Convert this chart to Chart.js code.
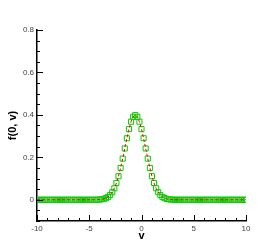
<!DOCTYPE html>
<html>
<head>
<meta charset="utf-8">
<script src="https://cdn.jsdelivr.net/npm/chart.js@4/dist/chart.umd.min.js"></script>
<style>
  html, body { margin: 0; padding: 0; background: #fff; }
  #wrap { width: 280px; height: 249px; }
</style>
</head>
<body>
<div id="wrap"><canvas id="chart"></canvas></div>
<script>
'use strict';

// velocity grid
const vPoints = [
  -10, -9.8, -9.6, -9.4, -9.2, -9, -8.8, -8.6, -8.4, -8.2,
  -8, -7.8, -7.6, -7.4, -7.2, -7, -6.8, -6.6, -6.4, -6.2,
  -6, -5.8, -5.6, -5.4, -5.2, -5, -4.8, -4.6, -4.4, -4.2,
  -4, -3.8, -3.6, -3.4, -3.2, -3, -2.8, -2.6, -2.4, -2.2,
  -2, -1.8, -1.6, -1.4, -1.2, -1, -0.8, -0.6, -0.4, -0.2,
  0, 0.2, 0.4, 0.6, 0.8, 1, 1.2, 1.4, 1.6, 1.8,
  2, 2.2, 2.4, 2.6, 2.8, 3, 3.2, 3.4, 3.6, 3.8,
  4, 4.2, 4.4, 4.6, 4.8, 5, 5.2, 5.4, 5.6, 5.8,
  6, 6.2, 6.4, 6.6, 6.8, 7, 7.2, 7.4, 7.6, 7.8,
  8, 8.2, 8.4, 8.6, 8.8, 9, 9.2, 9.4, 9.6, 9.8,
  10
];

// f(0, v)
const fPoints = [
  0, 0, 0, 0, 0, 0, 0, 0, 0, 0,
  0, 0, 0, 0, 0, 0, 0, 0, 0, 0,
  0, 0, 0, 0, 0, 0, 0, 0, 0.0003, 0.0006,
  0.0012, 0.0024, 0.0044, 0.0079, 0.0136, 0.0224, 0.0355, 0.054, 0.079, 0.111,
  0.150, 0.194, 0.242, 0.290, 0.333, 0.368, 0.391, 0.399, 0.391, 0.368,
  0.333, 0.290, 0.242, 0.194, 0.150, 0.111, 0.079, 0.054, 0.0355, 0.0224,
  0.0136, 0.0079, 0.0044, 0.0024, 0.0012, 0.0006, 0.0003, 0, 0, 0,
  0, 0, 0, 0, 0, 0, 0, 0, 0, 0,
  0, 0, 0, 0, 0, 0, 0, 0, 0, 0,
  0, 0, 0, 0, 0, 0, 0, 0, 0, 0,
  0
];

const xTicks = [-10, -5, 0, 5, 10];
const yTicks = [0, 0.2, 0.4, 0.6, 0.8];

let points = vPoints.map((v, i) => ({ x: v, y: fPoints[i] }));

// tecplot style ticks pointing into the plot
const inwardTicks = {
  id: 'inwardTicks',
  afterDraw(chart) {
    const ctx = chart.ctx;
    const x = chart.scales.x;
    const y = chart.scales.y;
    const area = chart.chartArea;
    ctx.save();
    ctx.strokeStyle = '#000';
    ctx.lineWidth = 1;
    ctx.beginPath();
    for (let v = -10; v <= 10; v++) {
      let px = Math.round(x.getPixelForValue(v)) + 0.5;
      let len = (v % 5 === 0) ? 6 : 3;
      ctx.moveTo(px, area.bottom);
      ctx.lineTo(px, area.bottom - len);
    }
    for (let k = -2; k <= 16; k++) {
      let py = Math.round(y.getPixelForValue(k * 0.05)) + 0.5;
      let len = (k % 4 === 0) ? 6 : 3;
      ctx.moveTo(area.left, py);
      ctx.lineTo(area.left + len, py);
    }
    ctx.stroke();
    ctx.restore();
  }
};

new Chart(document.getElementById('chart'), {
  type: 'line',
  data: {
    datasets: [
      {
        label: 'line',
        data: points,
        borderColor: '#ff0000',
        borderWidth: 1,
        borderDash: [3, 2],
        pointRadius: 0,
        fill: false
      },
      {
        label: 'squares',
        data: points,
        showLine: false,
        pointStyle: 'rect',
        pointRadius: 3.6,
        pointBorderWidth: 1,
        pointBorderColor: '#00d000',
        pointBackgroundColor: 'rgba(0,0,0,0)'
      }
    ]
  },
  options: {
    responsive: true,
    maintainAspectRatio: false,
    animation: false,
    layout: { padding: { top: 30, right: 34, left: 0, bottom: 0 } },
    plugins: {
      legend: { display: false },
      tooltip: { enabled: false }
    },
    scales: {
      x: {
        type: 'linear',
        min: -10,
        max: 10,
        afterBuildTicks: (scale) => { scale.ticks = xTicks.map(v => ({ value: v })); },
        afterFit: (scale) => { scale.height = 28; },
        grid: { display: false, drawTicks: false },
        border: { display: true, color: '#000', width: 1.5 },
        ticks: {
          padding: 3,
          maxRotation: 0,
          color: '#444',
          font: { family: 'Liberation Sans', size: 8 },
          callback: (v) => String(v)
        },
        title: {
          display: true,
          text: 'v',
          color: '#000',
          padding: { top: 0, bottom: 6 },
          font: { family: 'Liberation Sans', size: 11, weight: 'bold' }
        }
      },
      y: {
        type: 'linear',
        min: -0.1,
        max: 0.8,
        afterBuildTicks: (scale) => { scale.ticks = yTicks.map(v => ({ value: v })); },
        afterFit: (scale) => { scale.width = 37; },
        grid: { display: false, drawTicks: false },
        border: { display: true, color: '#000', width: 1.5 },
        ticks: {
          padding: 3,
          color: '#444',
          font: { family: 'Liberation Sans', size: 8 },
          callback: (v) => v === 0 ? '0' : v.toFixed(1)
        },
        title: {
          display: true,
          text: 'f(0, v)',
          color: '#000',
          padding: { top: 6, bottom: 0 },
          font: { family: 'Liberation Sans', size: 11, weight: 'bold' }
        }
      }
    }
  },
  plugins: [inwardTicks]
});
</script>
</body>
</html>
